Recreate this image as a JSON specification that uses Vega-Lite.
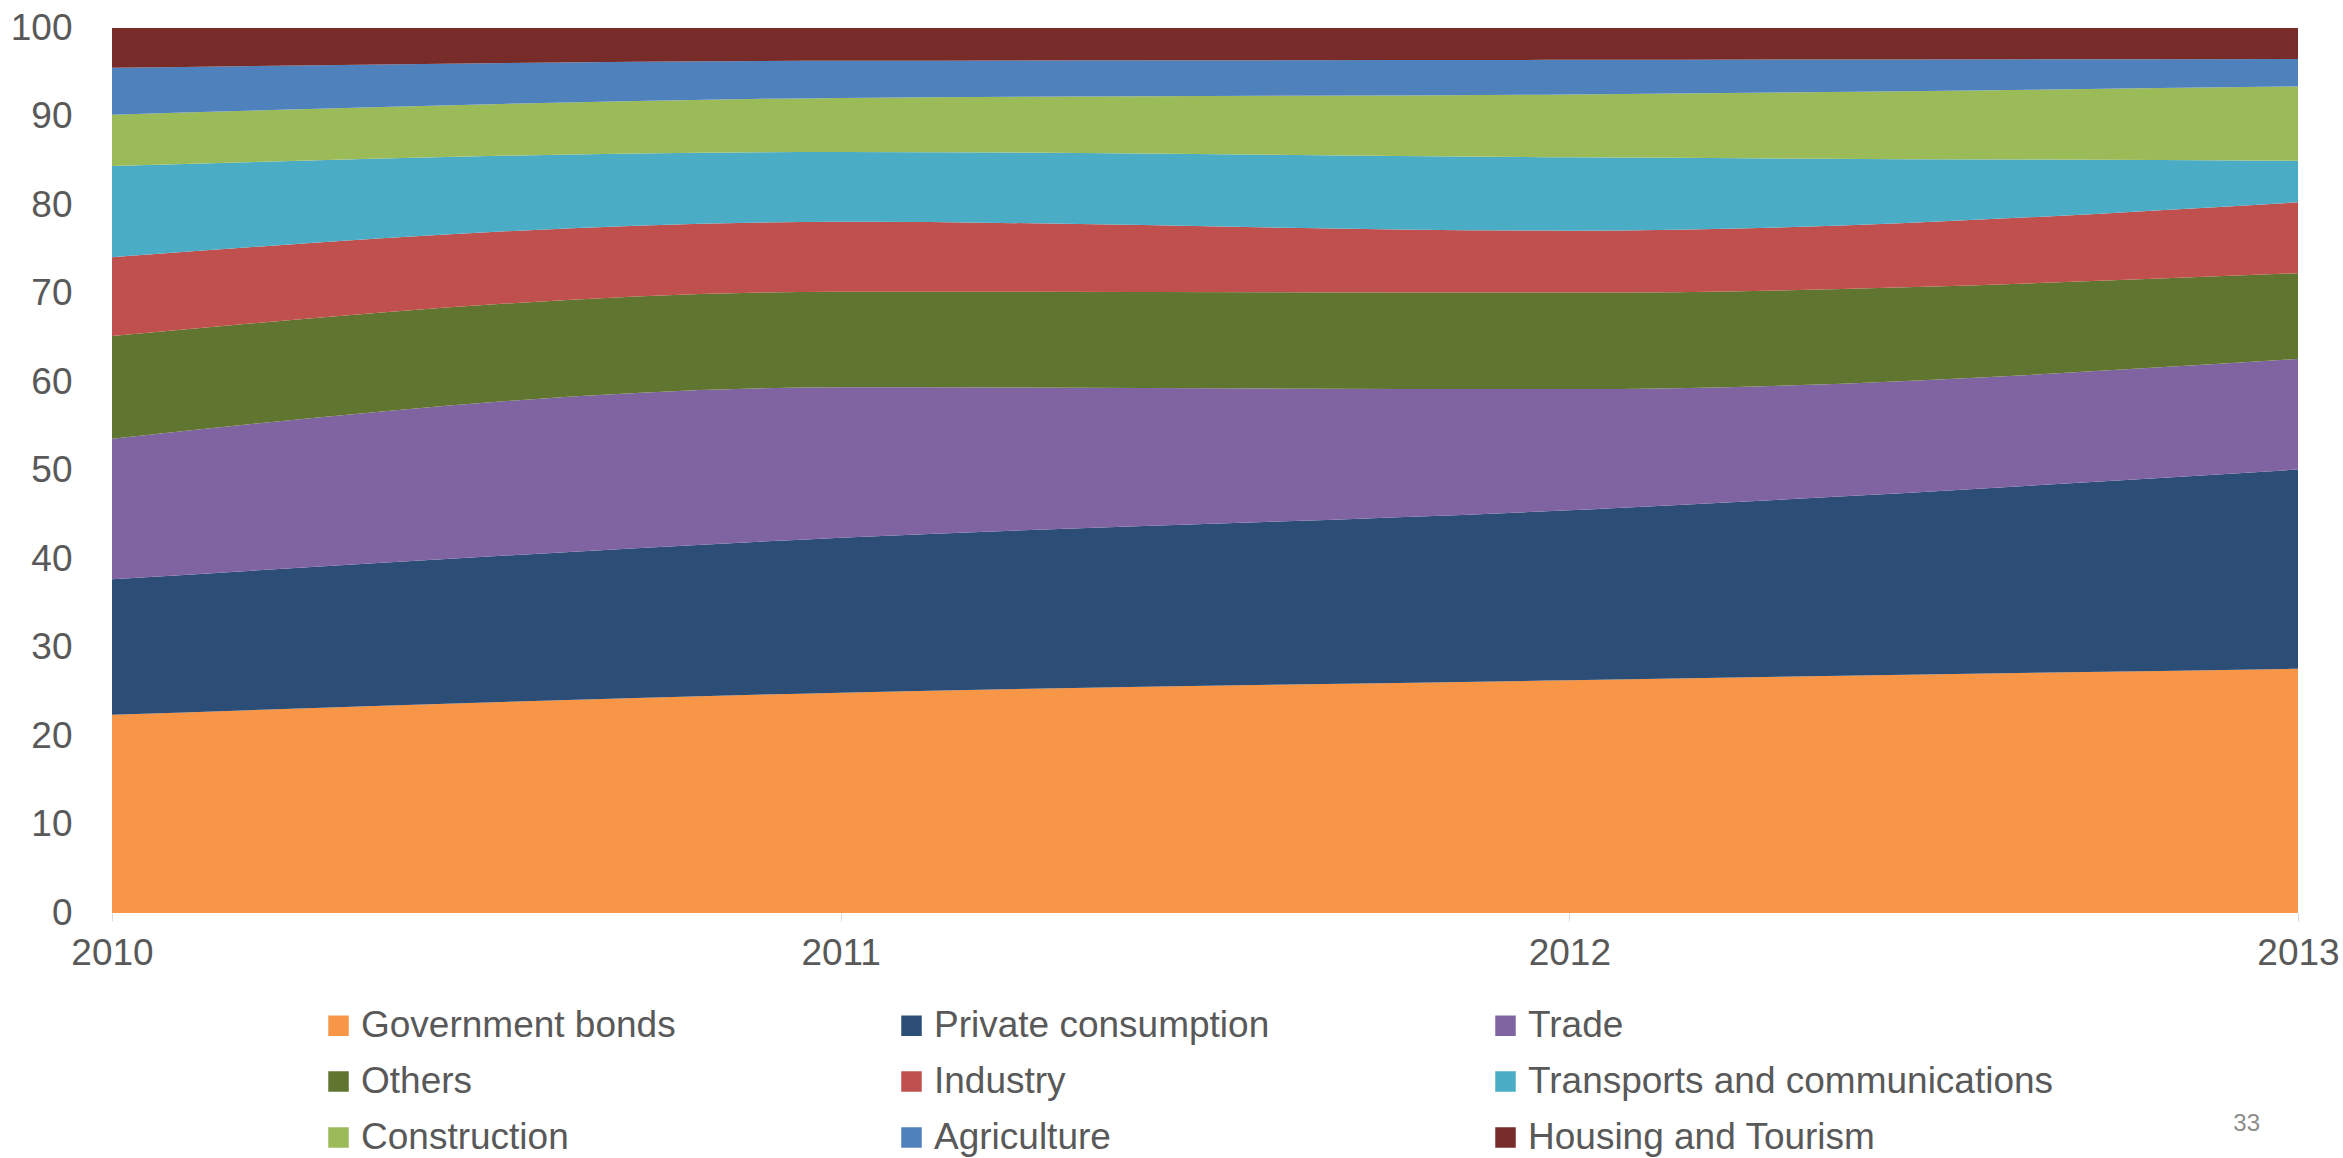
{
  "$schema": "https://vega.github.io/schema/vega-lite/v6.json",
  "width": 2186,
  "height": 885,
  "autosize": {"type": "none"},
  "padding": {"left": 112, "top": 28, "right": 45, "bottom": 245},
  "background": "white",
  "title": {"text": "33", "orient": "bottom", "anchor": "end", "frame": "group", "fontSize": 24, "fontWeight": "normal", "color": "#8c8c8c", "font": "Liberation Sans", "dx": -38, "offset": -44},
  "config": {
    "view": {"stroke": null},
    "font": "Liberation Sans"
  },
  "data": {
    "values": [
      {"year": 2010, "sector": "Government bonds", "value": 22.4},
      {"year": 2010, "sector": "Private consumption", "value": 15.3},
      {"year": 2010, "sector": "Trade", "value": 15.9},
      {"year": 2010, "sector": "Others", "value": 11.6},
      {"year": 2010, "sector": "Industry", "value": 8.9},
      {"year": 2010, "sector": "Transports and communications", "value": 10.3},
      {"year": 2010, "sector": "Construction", "value": 5.8},
      {"year": 2010, "sector": "Agriculture", "value": 5.3},
      {"year": 2010, "sector": "Housing and Tourism", "value": 4.5},
      {"year": 2011, "sector": "Government bonds", "value": 24.9},
      {"year": 2011, "sector": "Private consumption", "value": 17.5},
      {"year": 2011, "sector": "Trade", "value": 17.0},
      {"year": 2011, "sector": "Others", "value": 10.8},
      {"year": 2011, "sector": "Industry", "value": 7.9},
      {"year": 2011, "sector": "Transports and communications", "value": 7.9},
      {"year": 2011, "sector": "Construction", "value": 6.1},
      {"year": 2011, "sector": "Agriculture", "value": 4.2},
      {"year": 2011, "sector": "Housing and Tourism", "value": 3.7},
      {"year": 2012, "sector": "Government bonds", "value": 26.3},
      {"year": 2012, "sector": "Private consumption", "value": 19.2},
      {"year": 2012, "sector": "Trade", "value": 13.7},
      {"year": 2012, "sector": "Others", "value": 10.9},
      {"year": 2012, "sector": "Industry", "value": 7.0},
      {"year": 2012, "sector": "Transports and communications", "value": 8.3},
      {"year": 2012, "sector": "Construction", "value": 7.1},
      {"year": 2012, "sector": "Agriculture", "value": 3.9},
      {"year": 2012, "sector": "Housing and Tourism", "value": 3.6},
      {"year": 2013, "sector": "Government bonds", "value": 27.6},
      {"year": 2013, "sector": "Private consumption", "value": 22.5},
      {"year": 2013, "sector": "Trade", "value": 12.5},
      {"year": 2013, "sector": "Others", "value": 9.7},
      {"year": 2013, "sector": "Industry", "value": 8.0},
      {"year": 2013, "sector": "Transports and communications", "value": 4.7},
      {"year": 2013, "sector": "Construction", "value": 8.4},
      {"year": 2013, "sector": "Agriculture", "value": 3.1},
      {"year": 2013, "sector": "Housing and Tourism", "value": 3.5}
    ]
  },
  "transform": [
    {"calculate": "indexof(['Government bonds', 'Private consumption', 'Trade', 'Others', 'Industry', 'Transports and communications', 'Construction', 'Agriculture', 'Housing and Tourism'], datum.sector)", "as": "stack_rank"}
  ],
  "mark": {"type": "area", "interpolate": "monotone"},
  "encoding": {
    "x": {
      "field": "year",
      "type": "quantitative",
      "scale": {"domain": [2010, 2013], "nice": false, "zero": false},
      "axis": {
        "values": [2010, 2011, 2012, 2013],
        "format": "d",
        "title": null,
        "grid": false,
        "domain": false,
        "ticks": true,
        "tickSize": 8,
        "tickColor": "#d9d9d9",
        "labelFontSize": 37,
        "labelColor": "#595959",
        "labelPadding": 14,
        "labelFlush": false
      }
    },
    "y": {
      "field": "value",
      "type": "quantitative",
      "stack": "zero",
      "scale": {"domain": [0, 100], "nice": false},
      "axis": {
        "values": [0, 10, 20, 30, 40, 50, 60, 70, 80, 90, 100],
        "title": null,
        "grid": false,
        "domain": false,
        "ticks": false,
        "labelFontSize": 37,
        "labelColor": "#595959",
        "labelPadding": 40
      }
    },
    "color": {
      "field": "sector",
      "type": "nominal",
      "sort": ["Government bonds", "Private consumption", "Trade", "Others", "Industry", "Transports and communications", "Construction", "Agriculture", "Housing and Tourism"],
      "scale": {
        "domain": ["Government bonds", "Private consumption", "Trade", "Others", "Industry", "Transports and communications", "Construction", "Agriculture", "Housing and Tourism"],
        "range": ["#F79646", "#2C4D75", "#8064A2", "#5F7530", "#C0504D", "#4BACC6", "#9BBB59", "#4F81BD", "#772C2A"]
      },
      "legend": {
        "title": null,
        "orient": "none",
        "legendX": 208,
        "legendY": 979,
        "direction": "horizontal",
        "columns": 3,
        "columnPadding": 217,
        "rowPadding": 18,
        "symbolType": "square",
        "symbolSize": 420,
        "symbolStrokeWidth": 0,
        "labelFontSize": 37,
        "labelColor": "#595959",
        "labelOffset": 4,
        "labelLimit": 0
      }
    },
    "order": {"field": "stack_rank", "type": "quantitative", "sort": "ascending"}
  }
}
